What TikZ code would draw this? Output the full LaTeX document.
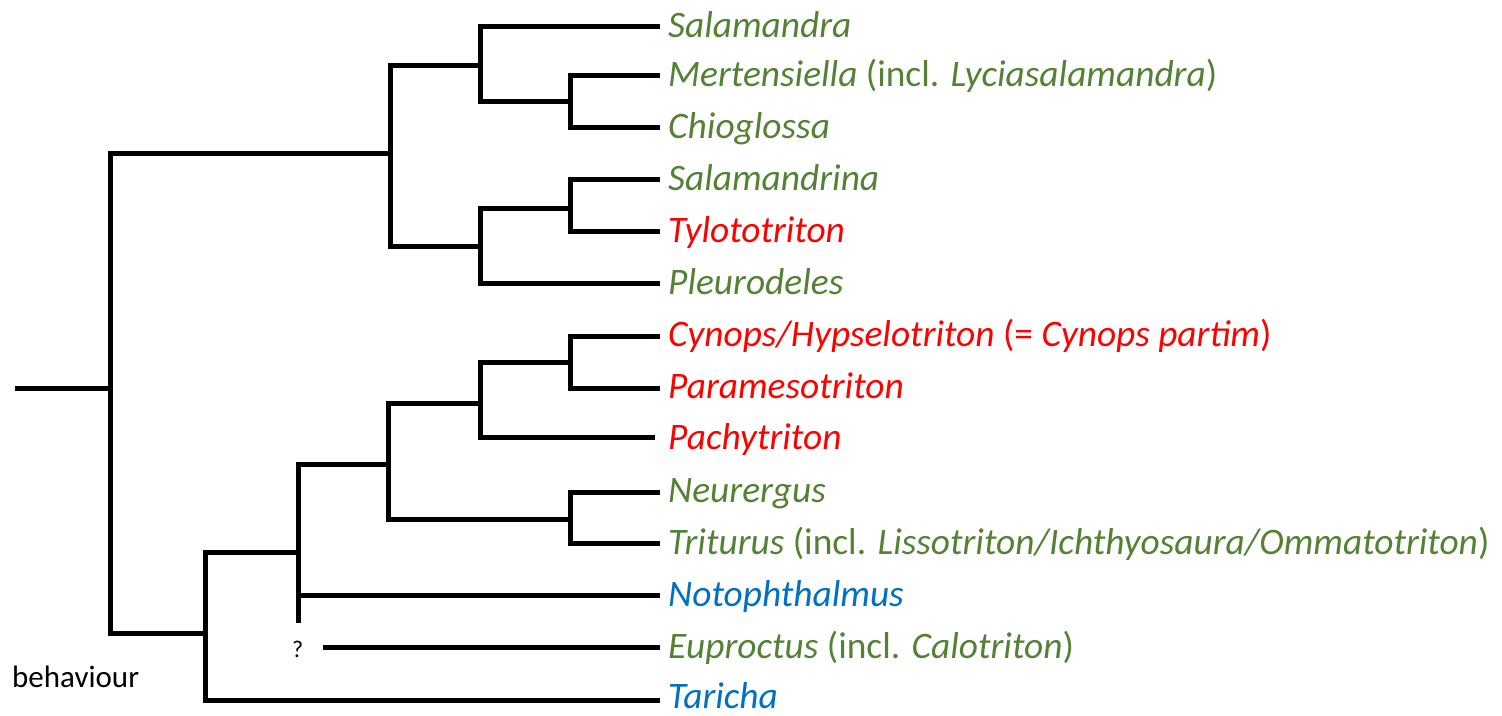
\documentclass[tikz,border=0pt]{standalone}
\usepackage{fontspec}
\setmainfont{Carlito}
\definecolor{tgreen}{HTML}{548235}
\definecolor{tred}{HTML}{FF0000}
\definecolor{tblue}{HTML}{0070C0}
\begin{document}
\begin{tikzpicture}[x=1pt,y=-1pt,
  branch/.style={line width=5pt,line join=miter,line cap=butt},
  taxon/.style={anchor=base west,inner sep=0pt,font=\fontsize{37.4}{45}\selectfont},
  note/.style={anchor=base west,inner sep=0pt,font=\fontsize{31}{37}\selectfont}]
\useasboundingbox (0,0) rectangle (1502,715);
% tip line ends
\coordinate (tSal) at (660,26);
\coordinate (tMer) at (660,75);
\coordinate (tChi) at (660,127);
\coordinate (tSaa) at (660,179);
\coordinate (tTyl) at (660,231);
\coordinate (tPle) at (660,283);
\coordinate (tCyn) at (660,336);
\coordinate (tPar) at (660,388);
\coordinate (tPac) at (655,437);
\coordinate (tNeu) at (660,492);
\coordinate (tTri) at (660,543);
\coordinate (tNot) at (660,595);
\coordinate (tEup) at (660,647);
\coordinate (tTar) at (660,700);
% internal nodes
\coordinate (stem) at (15,388);
\coordinate (R) at (110,388);
\coordinate (U) at (390,153);
\coordinate (U1) at (480,65);
\coordinate (U1a) at (570,101);
\coordinate (U2) at (480,246);
\coordinate (U2a) at (570,208);
\coordinate (L) at (205,633);
\coordinate (L1) at (298,552);
\coordinate (L1bot) at (298,623);
\coordinate (L2) at (388,464);
\coordinate (L3) at (480,403);
\coordinate (L4) at (570,362);
\coordinate (L5) at (570,519);
\coordinate (eupStart) at (323,647);
% branches
\draw[branch] (stem) -- (R);
\draw[branch] (U) -| (R) |- (L);
\draw[branch] (U1) -| (U) |- (U2);
\draw[branch] (tSal) -| (U1) |- (U1a);
\draw[branch] (tMer) -| (U1a) |- (tChi);
\draw[branch] (U2a) -| (U2) |- (tPle);
\draw[branch] (tSaa) -| (U2a) |- (tTyl);
\draw[branch] (L1) -| (L) |- (tTar);
\draw[branch] (L2) -| (L1) -- (L1bot);
\draw[branch] (L1 |- tNot) ++(3,0) -- (tNot);
\draw[branch] (L3) -| (L2) |- (L5);
\draw[branch] (L4) -| (L3) |- (tPac);
\draw[branch] (tCyn) -| (L4) |- (tPar);
\draw[branch] (tNeu) -| (L5) |- (tTri);
\draw[branch] (eupStart) -- (tEup);
% labels
\node[taxon,text=tgreen] (nSal) at (668,37) {\textit{Salamandra}};
\node[taxon,text=tgreen] (nMer) at (668,86) {\textit{Mertensiella} (incl. \textit{Lyciasalamandra})};
\node[taxon,text=tgreen] (nChi) at (668,138) {\textit{Chioglossa}};
\node[taxon,text=tgreen] (nSaa) at (668,190) {\textit{Salamandrina}};
\node[taxon,text=tred] (nTyl) at (668,242) {\textit{Tylototriton}};
\node[taxon,text=tgreen] (nPle) at (668,294) {\textit{Pleurodeles}};
\node[taxon,text=tred] (nCyn) at (668,346) {\textit{Cynops/Hypselotriton} (= \textit{Cynops partim})};
\node[taxon,text=tred] (nPar) at (668,398) {\textit{Paramesotriton}};
\node[taxon,text=tred] (nPac) at (668,449) {\textit{Pachytriton}};
\node[taxon,text=tgreen] (nNeu) at (668,502) {\textit{Neurergus}};
\node[taxon,text=tgreen] (nTri) at (668,554) {\textit{Triturus} (incl. \textit{Lissotriton/Ichthyosaura/Ommatotriton})};
\node[taxon,text=tblue] (nNot) at (668,606) {\textit{Notophthalmus}};
\node[taxon,text=tgreen] (nEup) at (668,658) {\textit{Euproctus} (incl. \textit{Calotriton})};
\node[taxon,text=tblue] (nTar) at (668,708) {\textit{Taricha}};
\node[note,font=\fontsize{24}{28}\selectfont] (q) at (292,657) {?};
\node[note] (beh) at (12,687) {behaviour};
\end{tikzpicture}
\end{document}
